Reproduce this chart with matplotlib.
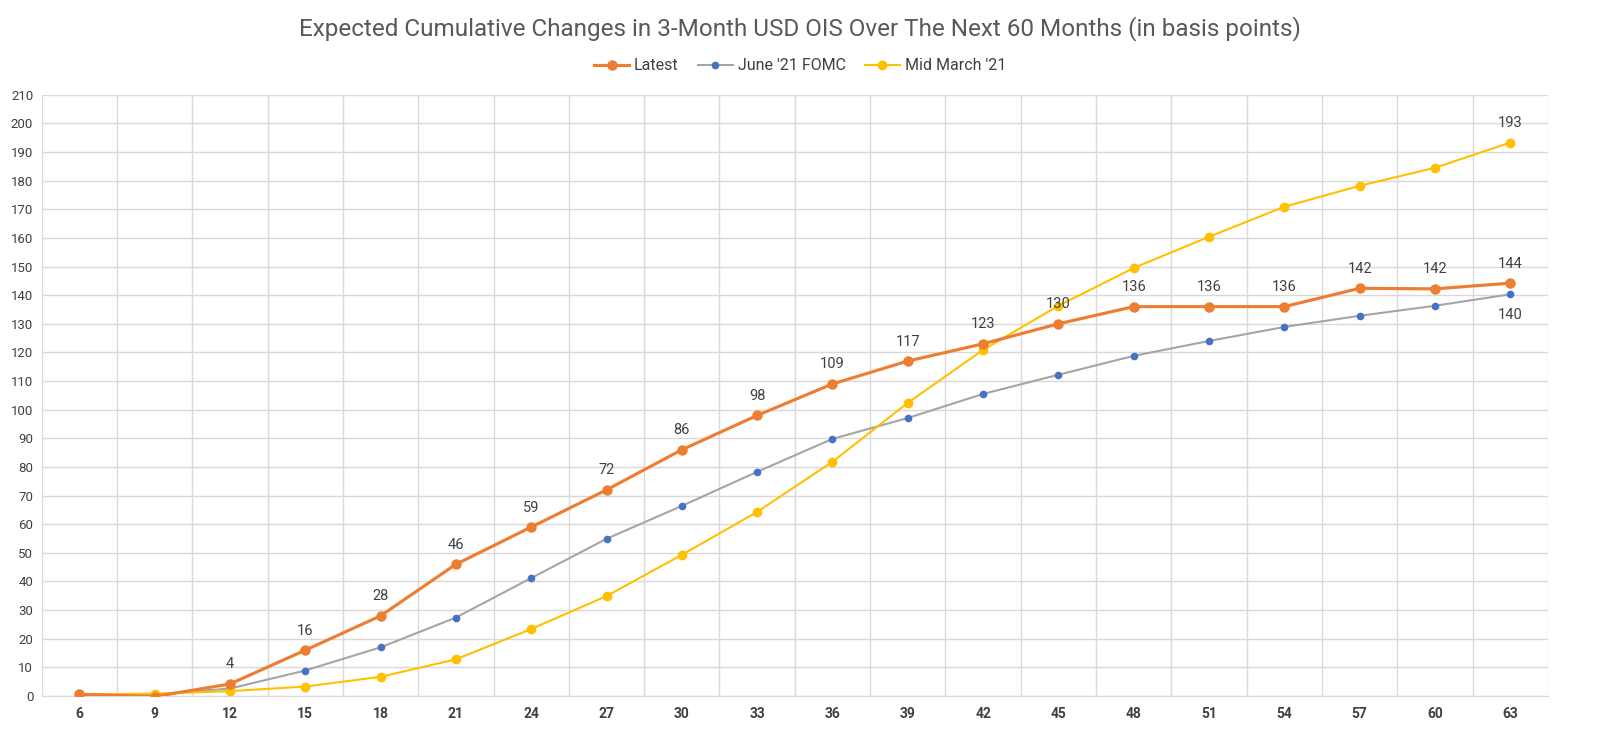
import matplotlib
matplotlib.use("Agg")
import matplotlib.pyplot as plt
import numpy as np

plt.rcParams['font.family'] = ['Roboto', 'DejaVu Sans']

months = [6, 9, 12, 15, 18, 21, 24, 27, 30, 33, 36, 39, 42, 45, 48, 51, 54, 57, 60, 63]
latest = [0.6, -0.2, 4.2, 16, 28, 46, 59, 72, 86, 98, 109, 117, 123, 130, 136, 136, 136, 142.4, 142.2, 144.2]
june_fomc = [0.3, 0.6, 2.6, 8.9, 17, 27.4, 41.2, 54.9, 66.4, 78.3, 89.8, 97.1, 105.5, 112.2, 118.8, 124, 128.9, 132.8, 136.3, 140.3]
mid_march = [0.6, 0.8, 1.7, 3.3, 6.7, 12.8, 23.4, 34.9, 49.3, 64.3, 81.8, 102.4, 120.9, 136.3, 149.5, 160.4, 170.9, 178.2, 184.5, 193.3]

title = "Expected Cumulative Changes in 3-Month USD OIS Over The Next 60 Months (in basis points)"

fig = plt.figure(figsize=(16, 7.46), dpi=100)
ax = fig.add_axes([0.026, 0.067, 0.9415, 0.806])

x = np.arange(len(months))
ax.plot(x, june_fomc, color='#A5A5A5', lw=1.5, marker='o', ms=4.5,
        mfc='#4472C4', mec='#4472C4', label="June '21 FOMC", zorder=3)
ax.plot(x, mid_march, color='#FFC000', lw=1.5, marker='o', ms=6,
        mfc='#FFC000', mec='#FFC000', label="Mid March '21", zorder=3)
ax.plot(x, latest, color='#ED7D31', lw=2.25, marker='o', ms=6.5,
        mfc='#ED7D31', mec='#ED7D31', label='Latest', zorder=4)

for i, v in enumerate(latest):
    if i >= 2:
        ax.annotate(f"{round(v):d}", (x[i], v), xytext=(0, 9), textcoords='offset points',
                    ha='center', va='bottom', fontsize=10.5, color='#404040')
ax.annotate(f"{round(june_fomc[-1]):d}", (x[-1], june_fomc[-1]), xytext=(0, -10),
            textcoords='offset points', ha='center', va='top', fontsize=10.5, color='#404040')
ax.annotate(f"{round(mid_march[-1]):d}", (x[-1], mid_march[-1]), xytext=(0, 9),
            textcoords='offset points', ha='center', va='bottom', fontsize=10.5, color='#404040')

ax.set_xlim(-0.5, len(months) - 0.5)
ax.set_ylim(0, 210)
ax.set_yticks(np.arange(0, 211, 10))
ax.set_xticks(x)
ax.set_xticklabels([str(m) for m in months], fontweight='bold', color='#404040', fontsize=10)
ax.set_xticks(np.arange(-0.5, len(months), 1), minor=True)
ax.tick_params(axis='y', labelsize=9.5, labelcolor='#404040', length=0, pad=6)
ax.tick_params(axis='x', which='both', length=0, pad=8)
ax.grid(axis='y', which='major', color='#D9D9D9', lw=1)
ax.grid(axis='x', which='minor', color='#D9D9D9', lw=1)
ax.set_axisbelow(True)
for s in ['top', 'right', 'left']:
    ax.spines[s].set_visible(False)
ax.spines['bottom'].set_color('#D9D9D9')

handles, labels = ax.get_legend_handles_labels()
order = [2, 0, 1]
fig.legend([handles[i] for i in order], [labels[i] for i in order], loc='center',
           bbox_to_anchor=(0.5, 0.912), ncol=3, frameon=False, fontsize=11.5,
           handlelength=2.2, columnspacing=1.2, handletextpad=0.3, labelcolor='#404040')
fig.text(0.5, 0.962, title, ha='center', va='center', fontsize=17.5, color='#595959')

fig.savefig('out.png', dpi=100, facecolor='white')
